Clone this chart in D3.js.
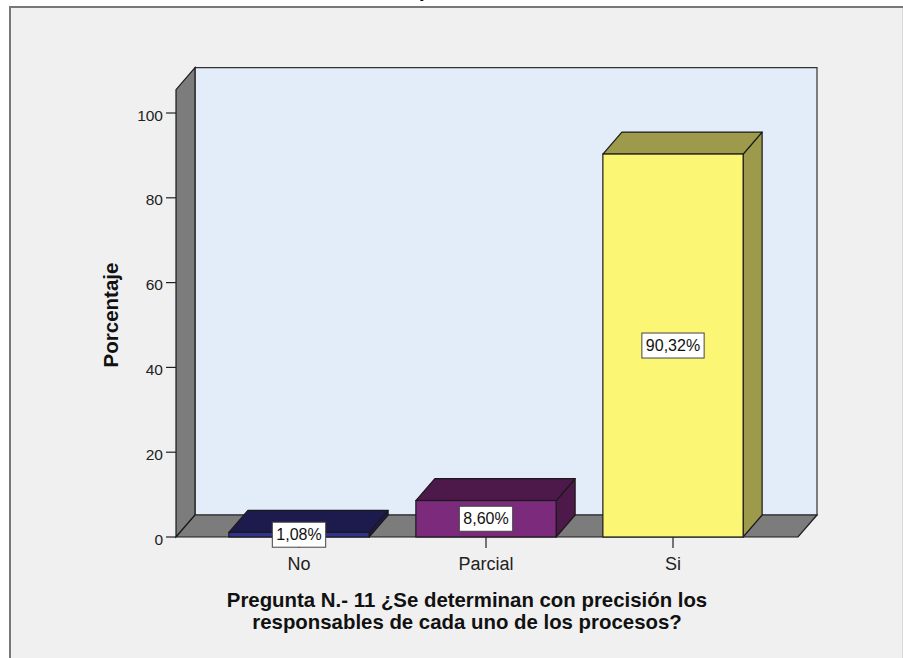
<!DOCTYPE html>
<html>
<head>
<meta charset="utf-8">
<script src="https://cdn.jsdelivr.net/npm/d3@7"></script>
<style>
  html, body { margin: 0; padding: 0; background: #ffffff; }
  svg { display: block; }
  text { font-family: "Liberation Sans", Arial, sans-serif; }
</style>
</head>
<body>
<svg id="chart" width="903" height="658"></svg>
<script>
// ---- data ----
const categories = ["No", "Parcial", "Si"];
const percentages = [1.08, 8.60, 90.32];
const valueLabels = ["1,08%", "8,60%", "90,32%"];
const yTicks = [0, 20, 40, 60, 80, 100];
const xTitleLines = ["Pregunta N.- 11 ¿Se determinan con precisión los",
                     "responsables de cada uno de los procesos?"];
const yTitle = "Porcentaje";

// ---- styles ----
const frontColors = ["#30348e", "#7c2a7c", "#fbf775"];
const topColors   = ["#1d1b4e", "#4d184a", "#9e9a4c"];
const sideColors  = ["#1d1b4e", "#4d184a", "#9e9a4c"];

const svg = d3.select("#chart");

// outer panel
svg.append("rect").attr("x", 10).attr("y", 7).attr("width", 893).attr("height", 651)
  .attr("fill", "#f0f0f0");
svg.append("line").attr("x1", 9).attr("x2", 903).attr("y1", 7).attr("y2", 7)
  .attr("stroke", "#777").attr("stroke-width", 2);
svg.append("line").attr("x1", 10).attr("x2", 10).attr("y1", 6).attr("y2", 658)
  .attr("stroke", "#777").attr("stroke-width", 2);
svg.append("line").attr("x1", 902.5).attr("x2", 902.5).attr("y1", 8).attr("y2", 658)
  .attr("stroke", "#d8d8d8").attr("stroke-width", 1);
// cut-off text at very top (only its descender shows, as in the reference)
svg.append("text").attr("x", 425).attr("y", -3.5).attr("text-anchor", "middle")
  .attr("font-size", 20).attr("font-weight", "bold").text("p");

// ---- scales ----
const y = d3.scaleLinear().domain([0, 100]).range([537, 113]);
const x = d3.scaleBand().domain(categories).range([205.5, 766.5])
  .paddingInner(0.25).paddingOuter(0.125);
const dx = 19, dy = -22;
const y0 = y(0);
const yTop = y(105.5);
const xL = 176, xR = 798;

const line = d3.line();
const outline = "#1a1a1a";

// back wall
svg.append("path")
  .attr("d", line([[xL + dx, yTop + dy], [xR + dx, yTop + dy], [xR + dx, y0 + dy], [xL + dx, y0 + dy]]) + "Z")
  .attr("fill", "#e2edf9").attr("stroke", "#333").attr("stroke-width", 1.2);
// left wall
svg.append("path")
  .attr("d", line([[xL, y0], [xL, yTop], [xL + dx, yTop + dy], [xL + dx, y0 + dy]]) + "Z")
  .attr("fill", "#7c7c7c").attr("stroke", outline).attr("stroke-width", 1.2);
// floor
svg.append("path")
  .attr("d", line([[xL, y0], [xR, y0], [xR + dx, y0 + dy], [xL + dx, y0 + dy]]) + "Z")
  .attr("fill", "#7c7c7c").attr("stroke", outline).attr("stroke-width", 1.2);

// y ticks
const yAxisG = svg.append("g");
yTicks.forEach(t => {
  yAxisG.append("line").attr("x1", xL - 10).attr("x2", xL).attr("y1", y(t)).attr("y2", y(t))
    .attr("stroke", "#222").attr("stroke-width", 1.2);
  yAxisG.append("text").attr("x", xL - 13).attr("y", y(t) + 7.5)
    .attr("text-anchor", "end").attr("font-size", 15.5).attr("fill", "#222").text(t);
});

// bars
const bars = svg.append("g");
categories.forEach((c, i) => {
  const x0 = x(c), x1 = x(c) + x.bandwidth();
  const yt = y(percentages[i]);
  bars.append("path")
    .attr("d", line([[x1, yt], [x1 + dx, yt + dy], [x1 + dx, y0 + dy], [x1, y0]]) + "Z")
    .attr("fill", sideColors[i]).attr("stroke", outline).attr("stroke-width", 1.2)
    .attr("stroke-linejoin", "round");
  bars.append("path")
    .attr("d", line([[x0, yt], [x0 + dx, yt + dy], [x1 + dx, yt + dy], [x1, yt]]) + "Z")
    .attr("fill", topColors[i]).attr("stroke", outline).attr("stroke-width", 1.2)
    .attr("stroke-linejoin", "round");
  bars.append("rect").attr("x", x0).attr("y", yt).attr("width", x1 - x0).attr("height", y0 - yt)
    .attr("fill", frontColors[i]).attr("stroke", outline).attr("stroke-width", 1.2);
});

// x ticks & labels
categories.forEach(c => {
  const cx = x(c) + x.bandwidth() / 2;
  svg.append("line").attr("x1", cx).attr("x2", cx).attr("y1", y0).attr("y2", y0 + 11)
    .attr("stroke", "#222").attr("stroke-width", 1.2);
  svg.append("text").attr("x", cx).attr("y", 570).attr("text-anchor", "middle")
    .attr("font-size", 18).attr("fill", "#222").text(c);
});

// value labels
categories.forEach((c, i) => {
  const cx = x(c) + x.bandwidth() / 2;
  const cy = (y(percentages[i]) + y0) / 2;
  const g = svg.append("g");
  const t = g.append("text").attr("x", cx).attr("y", cy + 5.5).attr("text-anchor", "middle")
    .attr("font-size", 16).attr("fill", "#111").text(valueLabels[i]);
  const w = t.node().getComputedTextLength() + 8;
  g.insert("rect", "text").attr("x", cx - w / 2).attr("y", cy - 12.5).attr("width", w).attr("height", 25)
    .attr("fill", "#ffffff").attr("stroke", "#444").attr("stroke-width", 1);
});

// axis titles
svg.append("text").attr("transform", "translate(118,315) rotate(-90)")
  .attr("text-anchor", "middle").attr("font-size", 20.5).attr("font-weight", "bold")
  .attr("fill", "#111").text(yTitle);
xTitleLines.forEach((l, i) => {
  svg.append("text").attr("x", 467).attr("y", 607 + i * 22).attr("text-anchor", "middle")
    .attr("font-size", 20.4).attr("font-weight", "bold").attr("fill", "#111").text(l);
});
</script>
</body>
</html>
